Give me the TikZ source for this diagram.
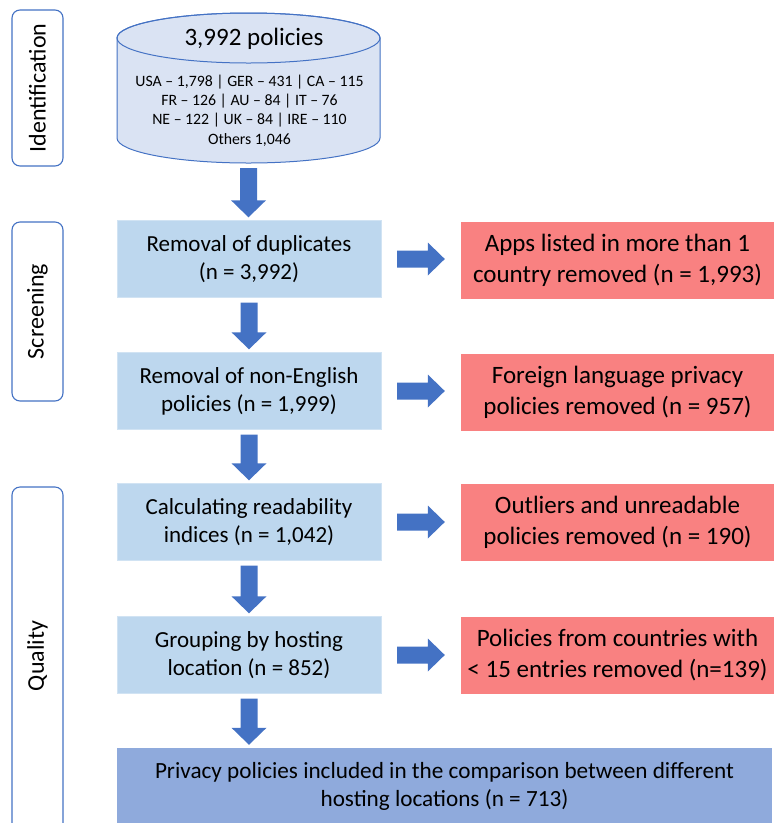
\documentclass[tikz,border=0pt]{standalone}
\usepackage{fontspec}
\setmainfont{Carlito}
\usetikzlibrary{calc}
\definecolor{arrowc}{HTML}{4472C4}
\definecolor{boxblue}{HTML}{BDD7EE}
\definecolor{boxred}{HTML}{F98181}
\definecolor{boxfinal}{HTML}{8FAADC}
\definecolor{cylfill}{HTML}{DAE3F3}
\tikzset{
  stagebox/.style={draw=arrowc, line width=1.1pt, rounded corners=8pt, fill=white},
  stagetext/.style={rotate=90, font=\fontsize{24}{29}\selectfont},
  bluebox/.style={fill=boxblue, draw=boxblue!70!white, minimum width=264pt, minimum height=77pt, align=center, font=\fontsize{23}{28}\selectfont, inner sep=0pt},
  redbox/.style={fill=boxred, draw=none, minimum width=313pt, minimum height=77pt, align=center, font=\fontsize{25}{31}\selectfont, inner sep=0pt},
  finalbox/.style={fill=boxfinal, draw=none, minimum width=655pt, minimum height=77pt, align=center, font=\fontsize{23.2}{27.5}\selectfont, inner sep=0pt},
}
\newcommand\blockdown[2]{%
  \fill[arrowc] let \p1=(#1.south), \p2=(#2.north) in
    (\x1-8.5pt,\y1-5pt) -- (\x1+8.5pt,\y1-5pt) -- (\x1+8.5pt,\y2+20pt) -- (\x1+17.5pt,\y2+20pt)
    -- (\x1,\y2+3pt) -- (\x1-17.5pt,\y2+20pt) -- (\x1-8.5pt,\y2+20pt) -- cycle;}
\newcommand\blockright[2]{%
  \fill[arrowc] let \p1=(#1.east), \p2=(#2.west) in
    (\x1+16pt,\y1+8.5pt) -- (\x2-33pt,\y1+8.5pt) -- (\x2-33pt,\y1+16.5pt) -- (\x2-16pt,\y1)
    -- (\x2-33pt,\y1-16.5pt) -- (\x2-33pt,\y1-8.5pt) -- (\x1+16pt,\y1-8.5pt) -- cycle;}
\begin{document}
\begin{tikzpicture}[x=1pt,y=-1pt]
\useasboundingbox (0,0) rectangle (774,823);
\begin{scope}
\clip (0,0) rectangle (774,823);
% stage boxes
\node[stagebox, minimum width=51pt, minimum height=156pt] (sid) at (37.5,88) {};
\node[stagetext] (tid) at (sid.center) {Identification};
\node[stagebox, minimum width=51pt, minimum height=179pt] (ssc) at (37.5,311.5) {};
\node[stagetext] (tsc) at (ssc.center) {Screening};
\node[stagebox, minimum width=51pt, minimum height=350pt] (squ) at (37.5,662) {};
\node[stagetext] (tqu) at ($(squ.center)+(0,-6)$) {Quality};

% cylinder
\path[fill=cylfill, draw=arrowc, line width=1pt] (117,38) -- (117,138)
  arc[start angle=180, end angle=360, x radius=131.5pt, y radius=25pt] -- (380,38)
  arc[start angle=0, end angle=180, x radius=131.5pt, y radius=25pt] -- cycle;
\draw[arrowc, line width=1pt] (248.5,38) ellipse [x radius=131.5pt, y radius=25pt];
\node[minimum width=263pt, minimum height=150pt, inner sep=0pt] (cyl) at (248.5,88) {};
\node[font=\fontsize{25}{30}\selectfont] (ctitle) at (254,39) {3,992 policies};
\node[align=center, font=\fontsize{15.8}{19.2}\selectfont] (clist) at (249.5,110.5) {USA – 1,798 | GER – 431 | CA – 115\\FR – 126 | AU – 84 | IT – 76\\NE – 122 | UK – 84 | IRE – 110\\Others 1,046};

% main boxes
\node[bluebox] (b1) at (249,259) {Removal of duplicates\\(n = 3,992)};
\node[bluebox] (b2) at (249,391) {Removal of non-English\\policies (n = 1,999)};
\node[bluebox] (b3) at (249,522) {Calculating readability\\indices (n = 1,042)};
\node[bluebox] (b4) at (249,655) {Grouping by hosting\\location (n = 852)};
\node[finalbox] (b5) at (444.5,786.5) {Privacy policies included in the comparison between different\\hosting locations (n = 713)};

\node[redbox] (r1) at (617.5,260) {Apps listed in more than 1\\country removed (n = 1,993)};
\node[redbox] (r2) at (617.5,392) {Foreign language privacy\\policies removed (n = 957)};
\node[redbox] (r3) at (617.5,522) {Outliers and unreadable\\policies removed (n = 190)};
\node[redbox] (r4) at (617.5,655.5) {Policies from countries with\\< 15 entries removed (n=139)};

% arrows
\blockdown{cyl}{b1}
\blockdown{b1}{b2}
\blockdown{b2}{b3}
\blockdown{b3}{b4}
\blockdown{b4}{b5}
\blockright{b1}{r1}
\blockright{b2}{r2}
\blockright{b3}{r3}
\blockright{b4}{r4}
\end{scope}
\end{tikzpicture}
\end{document}
